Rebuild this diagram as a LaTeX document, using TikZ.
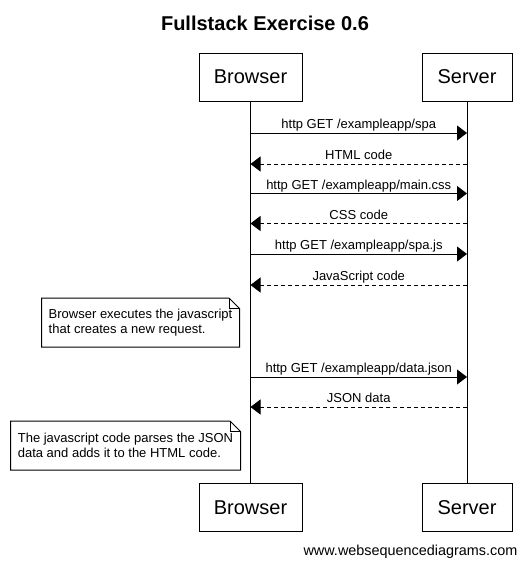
\documentclass[tikz,border=0pt]{standalone}
\usepackage{fontspec}
\setmainfont{Liberation Sans}
\usetikzlibrary{arrows.meta}
\begin{document}
\begin{tikzpicture}[x=1pt,y=-1pt,
  actor/.style={draw, line width=1pt, minimum width=103pt, minimum height=48pt, inner sep=0pt,
    font=\fontsize{20}{24}\selectfont},
  life/.style={line width=1pt},
  msg/.style={line width=1pt, -{Triangle[length=10pt,width=15pt]}},
  reply/.style={msg, dash pattern=on 4pt off 3pt},
  lbl/.style={font=\fontsize{13}{15}\selectfont, inner sep=0pt, anchor=base, yshift=4.5pt},
  notetext/.style={font=\fontsize{13}{15}\selectfont, align=left, inner sep=0pt},
  notebox/.style={line width=1pt, fill=white}
]
\useasboundingbox (0,0) rectangle (526,566);
\fill[white] (0,0) rectangle (526,566);

\node[font=\fontsize{20}{24}\selectfont\bfseries] (title) at (265,23) {Fullstack Exercise 0.6};

\node[actor] (bt) at (250.5,77) {Browser};
\node[actor, minimum width=90pt] (st) at (467,77) {Server};
\node[actor] (bb) at (250.5,507.5) {Browser};
\node[actor, minimum width=90pt] (sb) at (467,507.5) {Server};

\draw[life] (bt) -- (bb);
\draw[life] (st) -- (sb);

% message coordinates
\foreach \n/\y in {1/133,2/164,3/193.5,4/223.5,5/254,6/285,7/377,8/407}{
  \coordinate (b\n) at (250.5,\y);
  \coordinate (s\n) at (467,\y);
}

\draw[msg] (b1) -- node[lbl] (l1) {http GET /exampleapp/spa} (s1);
\draw[reply] (s2) -- node[lbl] (l2) {HTML code} (b2);
\draw[msg] (b3) -- node[lbl] (l3) {http GET /exampleapp/main.css} (s3);
\draw[reply] (s4) -- node[lbl] (l4) {CSS code} (b4);
\draw[msg] (b5) -- node[lbl] (l5) {http GET /exampleapp/spa.js} (s5);
\draw[reply] (s6) -- node[lbl] (l6) {JavaScript code} (b6);
\draw[msg] (b7) -- node[lbl] (l7) {http GET /exampleapp/data.json} (s7);
\draw[reply] (s8) -- node[lbl] (l8) {JSON data} (b8);

% note 1
\draw[notebox] (41.5,298) -- (229,298) -- (239.5,308.5) -- (239.5,347) -- (41.5,347) -- cycle;
\draw[line width=1pt] (229,298) -- (229,308.5) -- (239.5,308.5);
\node[notetext] (n1) at (140.5,322.5) {Browser executes the javascript\\that creates a new request.};

% note 2
\draw[notebox] (10.5,421) -- (230,421) -- (240.5,431.5) -- (240.5,470) -- (10.5,470) -- cycle;
\draw[line width=1pt] (230,421) -- (230,431.5) -- (240.5,431.5);
\node[notetext] (n2) at (125.5,445.5) {The javascript code parses the JSON\\data and adds it to the HTML code.};

\node[font=\fontsize{14.4}{16}\selectfont, anchor=east, inner sep=0pt] (footer) at (517.5,551.5) {www.websequencediagrams.com};
\end{tikzpicture}
\end{document}
